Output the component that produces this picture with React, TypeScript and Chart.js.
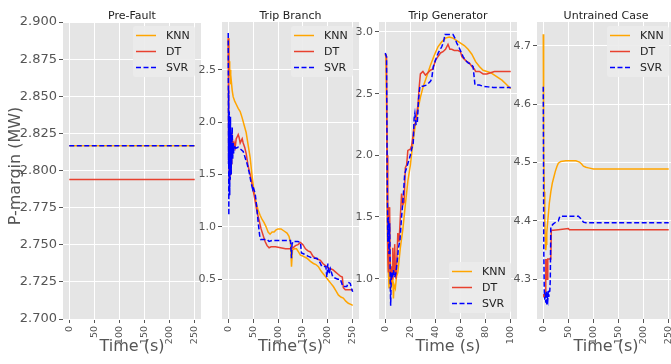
import React, { useEffect, useRef } from "react";
import { Chart, registerables } from "chart.js";
Chart.register(...registerables);

const FONT = "'DejaVu Sans', sans-serif";
const KNN_COLOR = "#FFA500";
const DT_COLOR = "#E8412F";
const SVR_COLOR = "#0000FF";
const SERIES_NAMES = ["KNN", "DT", "SVR"];

// ---------- Pre-Fault ----------
const pfTime = [0, 50, 100, 150, 200, 250];
const pfKnn = [2.8167, 2.8167, 2.8167, 2.8167, 2.8167, 2.8167];
const pfDt = [2.794, 2.794, 2.794, 2.794, 2.794, 2.794];
const pfSvr = [2.8167, 2.8167, 2.8167, 2.8167, 2.8167, 2.8167];

// ---------- Trip Branch ----------
const tbKnnTime = [0, 0.5, 1, 1.5, 2, 3, 4, 5, 6, 8, 10, 13, 16, 20, 24, 28, 32, 36, 40, 44, 48, 52, 56, 60, 64, 68, 72, 76, 80, 84, 88, 92, 96, 100, 106, 112, 118, 122, 125, 127, 129, 133, 137, 141, 145, 150, 158, 165, 171, 176, 181, 186, 191, 196, 201, 206, 211, 216, 221, 226, 231, 236, 241, 246, 250];
const tbKnn = [2.8, 2.7, 2.62, 2.5, 2.58, 2.44, 2.5, 2.36, 2.4, 2.3, 2.24, 2.2, 2.17, 2.13, 2.1, 2.04, 1.97, 1.9, 1.78, 1.66, 1.48, 1.33, 1.23, 1.16, 1.11, 1.07, 1.04, 1.0, 0.95, 0.93, 0.95, 0.95, 0.97, 0.98, 0.98, 0.96, 0.94, 0.91, 0.85, 0.62, 0.78, 0.79, 0.79, 0.76, 0.73, 0.72, 0.7, 0.67, 0.65, 0.64, 0.62, 0.58, 0.55, 0.52, 0.49, 0.46, 0.43, 0.39, 0.35, 0.33, 0.32, 0.29, 0.27, 0.26, 0.25];
const tbDtTime = [0, 0.5, 1, 1.5, 2, 2.5, 3, 3.5, 4, 5, 6, 7, 8, 9, 10, 12, 14, 16, 18, 20, 22, 24, 26, 28, 30, 33, 36, 40, 44, 48, 52, 55, 58, 62, 66, 70, 74, 78, 82, 86, 95, 105, 115, 125, 130, 135, 140, 145, 150, 155, 160, 165, 170, 175, 180, 185, 190, 195, 200, 205, 210, 215, 220, 225, 229, 231, 235, 250];
const tbDt = [2.8, 2.3, 1.6, 2.0, 1.45, 1.85, 1.55, 1.95, 1.5, 1.8, 1.6, 1.9, 1.7, 1.82, 1.72, 1.8, 1.76, 1.84, 1.86, 1.88, 1.85, 1.8, 1.82, 1.84, 1.8, 1.76, 1.7, 1.58, 1.5, 1.4, 1.3, 1.22, 1.14, 1.06, 0.98, 0.92, 0.86, 0.82, 0.8, 0.81, 0.81, 0.8, 0.79, 0.79, 0.8, 0.82, 0.83, 0.85, 0.83, 0.79, 0.77, 0.76, 0.72, 0.7, 0.69, 0.68, 0.65, 0.63, 0.61, 0.6, 0.59, 0.57, 0.55, 0.53, 0.52, 0.42, 0.4, 0.4];
const tbSvrTime = [0, 0.3, 0.6, 0.9, 1.2, 1.5, 1.8, 2.1, 2.4, 2.7, 3, 3.5, 4, 4.5, 5, 5.5, 6, 6.5, 7, 8, 9, 10, 11, 12, 15, 20, 25, 30, 34, 38, 42, 46, 49, 50, 54, 57, 60, 63, 65, 70, 78, 82, 88, 95, 105, 115, 125, 127, 128, 130, 140, 145, 147, 152, 160, 170, 178, 184, 188, 196, 198, 200, 202, 205, 210, 220, 225, 230, 238, 241, 245, 248, 250];
const tbSvr = [2.85, 2.4, 1.6, 2.3, 1.11, 1.9, 1.3, 2.1, 1.4, 1.95, 1.3, 1.85, 1.45, 2.05, 1.55, 1.9, 1.5, 1.8, 1.6, 1.95, 1.65, 1.8, 1.7, 1.78, 1.75, 1.76, 1.74, 1.72, 1.66, 1.6, 1.52, 1.42, 1.36, 1.38, 1.32, 1.2, 1.05, 0.92, 0.88, 0.88, 0.88, 0.86, 0.87, 0.87, 0.87, 0.87, 0.87, 0.7, 0.83, 0.86, 0.86, 0.85, 0.75, 0.74, 0.72, 0.7, 0.7, 0.66, 0.62, 0.62, 0.52, 0.65, 0.55, 0.6, 0.52, 0.5, 0.5, 0.43, 0.43, 0.47, 0.46, 0.4, 0.38];

// ---------- Trip Generator ----------
const tgKnnTime = [0, 0.5, 1, 1.5, 2, 2.5, 3, 4, 5, 6, 6.5, 7, 8, 9, 10, 12, 14, 16, 18, 20, 22, 24, 26, 28, 30, 33, 36, 39, 42, 45, 48, 51, 54, 57, 60, 63, 66, 69, 72, 75, 78, 81, 84, 87, 90, 93, 96, 98, 100];
const tgKnn = [2.82, 2.8, 2.3, 1.6, 1.2, 1.05, 0.92, 1.15, 0.95, 1.0, 0.84, 0.95, 0.92, 1.02, 1.05, 1.25, 1.4, 1.6, 1.79, 1.92, 2.1, 2.25, 2.37, 2.47, 2.55, 2.64, 2.73, 2.81, 2.88, 2.92, 2.95, 2.96, 2.95, 2.93, 2.91, 2.89, 2.86, 2.82, 2.76, 2.72, 2.69, 2.68, 2.67, 2.65, 2.63, 2.61, 2.58, 2.56, 2.54];
const tgDtTime = [0, 1, 1.5, 2, 2.5, 3, 3.5, 4, 4.5, 5, 5.5, 6, 6.5, 7, 7.5, 8, 8.5, 9, 10, 11, 12, 13, 14, 15, 16, 17, 18, 20, 21, 22, 23, 24, 25, 26, 27, 28, 30, 32, 34, 36, 38, 40, 42, 44, 46, 48, 50, 51.5, 53, 55, 58, 60, 61, 63, 65, 67, 69, 71, 72, 75, 78, 81, 84, 87, 90, 95, 100];
const tgDt = [2.82, 2.8, 2.0, 1.2, 1.05, 1.58, 1.55, 1.05, 0.95, 1.1, 1.0, 1.25, 1.15, 1.05, 1.28, 1.1, 1.0, 1.08, 1.37, 1.3, 1.5, 1.69, 1.6, 1.62, 1.9, 1.92, 2.04, 2.05, 2.08, 2.15, 2.25, 2.26, 2.34, 2.4, 2.55, 2.66, 2.68, 2.65, 2.67, 2.69, 2.7, 2.77, 2.8, 2.83, 2.84, 2.86, 2.9, 2.86, 2.86, 2.85, 2.85, 2.84, 2.8, 2.78, 2.76, 2.75, 2.72, 2.7, 2.68, 2.68, 2.66, 2.66, 2.67, 2.68, 2.68, 2.68, 2.68];
const tgSvrTime = [0, 1, 1.5, 2, 2.5, 3, 3.5, 4, 4.3, 4.8, 5.5, 6.5, 7.5, 8.5, 9.6, 10.5, 11.7, 13, 14.3, 15.5, 17, 18.5, 19.7, 21, 22.3, 23, 23.6, 24.5, 25.5, 26.5, 27.6, 30, 33, 36, 37, 38.3, 40, 42.2, 45, 46.5, 47.6, 50, 54, 55.5, 57, 59, 62, 64, 66, 68, 70, 71.5, 75, 78, 82, 86, 100];
const tgSvr = [2.83, 2.8, 1.9, 1.3, 1.5, 1.2, 1.45, 0.95, 0.78, 1.05, 1.0, 1.07, 1.01, 1.05, 1.15, 1.25, 1.31, 1.5, 1.66, 1.85, 1.9, 1.95, 1.99, 2.05, 2.1, 2.3, 2.34, 2.25, 2.26, 2.45, 2.56, 2.56, 2.57, 2.6, 2.62, 2.72, 2.77, 2.83, 2.88, 2.92, 2.98, 2.98, 2.98, 2.95, 2.91, 2.87, 2.8, 2.77, 2.75, 2.74, 2.72, 2.57, 2.57, 2.56, 2.555, 2.55, 2.55];

// ---------- Untrained Case ----------
const ucKnnTime = [0, 0.5, 1, 2, 3, 4, 5, 6, 7, 8, 10, 12, 15, 18, 21, 24, 27, 30, 35, 45, 55, 65, 72, 76, 80, 85, 90, 100, 150, 200, 250];
const ucKnn = [4.72, 4.62, 4.52, 4.45, 4.4, 4.37, 4.35, 4.36, 4.38, 4.39, 4.41, 4.43, 4.45, 4.465, 4.475, 4.485, 4.493, 4.499, 4.502, 4.503, 4.503, 4.503, 4.501, 4.498, 4.494, 4.492, 4.491, 4.489, 4.489, 4.489, 4.489];
const ucDtTime = [0, 1, 2, 3, 4, 5, 6, 7, 8, 9, 13, 15, 16, 20, 30, 50, 52, 250];
const ucDt = [4.27, 4.275, 4.27, 4.28, 4.27, 4.335, 4.3, 4.335, 4.3, 4.335, 4.335, 4.335, 4.384, 4.384, 4.385, 4.387, 4.385, 4.385];
const ucSvrTime = [0, 0.5, 1, 2, 3, 4, 5, 6, 7, 8, 9, 10, 11, 12, 13, 14, 15, 20, 25, 30, 33, 50, 70, 75, 80, 85, 250];
const ucSvr = [4.63, 4.5, 4.35, 4.28, 4.265, 4.275, 4.26, 4.28, 4.255, 4.27, 4.265, 4.28, 4.27, 4.28, 4.28, 4.3, 4.39, 4.395, 4.398, 4.4, 4.408, 4.408, 4.408, 4.404, 4.398, 4.397, 4.397];

// ---------- tick labels ----------
const xTicks250 = [0, 50, 100, 150, 200, 250];
const xTicks100 = [0, 20, 40, 60, 80, 100];
const pfYTicks = [2.7, 2.725, 2.75, 2.775, 2.8, 2.825, 2.85, 2.875, 2.9];
const tbYTicks = [0.5, 1.0, 1.5, 2.0, 2.5];
const tgYTicks = [1.0, 1.5, 2.0, 2.5, 3.0];
const ucYTicks = [4.3, 4.4, 4.5, 4.6, 4.7];

type Series = { t: number[]; v: number[] };
interface PanelSpec {
  title: string;
  plotLeft: number;
  plotWidth: number;
  axisW: number;
  xMin: number;
  xMax: number;
  xTicks: number[];
  yMin: number;
  yMax: number;
  yTicks: number[];
  yDecimals: number;
  yTickFont: number;
  legendAt: "top" | "bottom";
  knn: Series;
  dt: Series;
  svr: Series;
  yLabel?: string;
}

const PANELS: PanelSpec[] = [
  {
    title: "Pre-Fault", plotLeft: 63, plotWidth: 138, axisW: 63,
    xMin: -12.5, xMax: 262.5, xTicks: xTicks250,
    yMin: 2.7, yMax: 2.9, yTicks: pfYTicks, yDecimals: 3, yTickFont: 13,
    legendAt: "top",
    knn: { t: pfTime, v: pfKnn }, dt: { t: pfTime, v: pfDt }, svr: { t: pfTime, v: pfSvr },
    yLabel: "P-margin (MW)",
  },
  {
    title: "Trip Branch", plotLeft: 222, plotWidth: 137, axisW: 24,
    xMin: -12.5, xMax: 262.5, xTicks: xTicks250,
    yMin: 0.12, yMax: 2.955, yTicks: tbYTicks, yDecimals: 1, yTickFont: 11,
    legendAt: "top",
    knn: { t: tbKnnTime, v: tbKnn }, dt: { t: tbDtTime, v: tbDt }, svr: { t: tbSvrTime, v: tbSvr },
  },
  {
    title: "Trip Generator", plotLeft: 379, plotWidth: 138, axisW: 24,
    xMin: -5, xMax: 105, xTicks: xTicks100,
    yMin: 0.673, yMax: 3.081, yTicks: tgYTicks, yDecimals: 1, yTickFont: 11,
    legendAt: "bottom",
    knn: { t: tgKnnTime, v: tgKnn }, dt: { t: tgDtTime, v: tgDt }, svr: { t: tgSvrTime, v: tgSvr },
  },
  {
    title: "Untrained Case", plotLeft: 537, plotWidth: 138, axisW: 24,
    xMin: -12.5, xMax: 262.5, xTicks: xTicks250,
    yMin: 4.232, yMax: 4.741, yTicks: ucYTicks, yDecimals: 1, yTickFont: 11,
    legendAt: "top",
    knn: { t: ucKnnTime, v: ucKnn }, dt: { t: ucDtTime, v: ucDt }, svr: { t: ucSvrTime, v: ucSvr },
  },
];

const RIGHT_PAD = 12;
const CANVAS_H = 364;

function Panel({ spec }: { spec: PanelSpec }) {
  const ref = useRef<HTMLCanvasElement>(null);
  const width = spec.axisW + spec.plotWidth + RIGHT_PAD;

  useEffect(() => {
    const canvas = ref.current;
    if (!canvas) return;
    const toPts = (s: Series) => s.t.map((t, i) => ({ x: t, y: s.v[i] }));

    const deco = {
      id: "deco",
      beforeDraw(chart: any) {
        const { ctx, chartArea: ca } = chart;
        ctx.save();
        ctx.fillStyle = "#E5E5E5";
        ctx.fillRect(ca.left, ca.top, ca.right - ca.left, ca.bottom - ca.top);
        ctx.restore();
      },
      afterDraw(chart: any) {
        const { ctx, chartArea: ca } = chart;
        const xs = chart.scales.x;
        const cx = (ca.left + ca.right) / 2;
        ctx.save();
        // x tick labels rotated 90 degrees (reading bottom-to-top)
        ctx.fillStyle = "#555";
        ctx.font = `9.5px ${FONT}`;
        ctx.textAlign = "right";
        ctx.textBaseline = "middle";
        xs.ticks.forEach((tk: any) => {
          const px = xs.getPixelForValue(tk.value);
          ctx.save();
          ctx.translate(px, ca.bottom + 7);
          ctx.rotate(-Math.PI / 2);
          ctx.fillText(String(tk.value), 0, 0);
          ctx.restore();
        });
        // title
        ctx.fillStyle = "#222";
        ctx.font = `11px ${FONT}`;
        ctx.textAlign = "center";
        ctx.textBaseline = "alphabetic";
        ctx.fillText(spec.title, cx, 18.5);
        // x axis title
        ctx.fillStyle = "#555";
        ctx.font = `16px ${FONT}`;
        ctx.fillText("Time (s)", cx, 351);
        // y label
        if (spec.yLabel) {
          ctx.save();
          ctx.translate(20, 166);
          ctx.rotate(-Math.PI / 2);
          ctx.fillText(spec.yLabel, 0, 0);
          ctx.restore();
        }
        // legend
        const lw = 62;
        const lh = 51;
        const lx = ca.right - 6 - lw;
        const ly = spec.legendAt === "top" ? ca.top + 4 : ca.bottom - 6 - lh;
        ctx.fillStyle = "rgba(236,236,236,0.92)";
        ctx.beginPath();
        const r = 3;
        ctx.moveTo(lx + r, ly);
        ctx.lineTo(lx + lw - r, ly);
        ctx.quadraticCurveTo(lx + lw, ly, lx + lw, ly + r);
        ctx.lineTo(lx + lw, ly + lh - r);
        ctx.quadraticCurveTo(lx + lw, ly + lh, lx + lw - r, ly + lh);
        ctx.lineTo(lx + r, ly + lh);
        ctx.quadraticCurveTo(lx, ly + lh, lx, ly + lh - r);
        ctx.lineTo(lx, ly + r);
        ctx.quadraticCurveTo(lx, ly, lx + r, ly);
        ctx.closePath();
        ctx.fill();
        const colors = [KNN_COLOR, DT_COLOR, SVR_COLOR];
        SERIES_NAMES.forEach((name, i) => {
          const y = ly + 9.5 + i * 16;
          ctx.beginPath();
          ctx.strokeStyle = colors[i];
          ctx.lineWidth = 1.5;
          ctx.setLineDash(i === 2 ? [5, 2.5] : []);
          ctx.moveTo(lx + 3, y);
          ctx.lineTo(lx + 23, y);
          ctx.stroke();
          ctx.setLineDash([]);
          ctx.fillStyle = "#222";
          ctx.font = `11px ${FONT}`;
          ctx.textAlign = "left";
          ctx.textBaseline = "middle";
          ctx.fillText(name, lx + 33, y + 0.5);
        });
        ctx.restore();
      },
    };

    const chart = new Chart(canvas, {
      type: "line",
      data: {
        datasets: [
          { label: "KNN", data: toPts(spec.knn), borderColor: KNN_COLOR, borderWidth: 1.5, pointRadius: 0, order: 3, fill: false },
          { label: "DT", data: toPts(spec.dt), borderColor: DT_COLOR, borderWidth: 1.5, pointRadius: 0, order: 2, fill: false },
          { label: "SVR", data: toPts(spec.svr), borderColor: SVR_COLOR, borderWidth: 1.5, borderDash: [5, 2.5], pointRadius: 0, order: 1, fill: false },
        ],
      },
      options: {
        animation: false,
        responsive: false,
        devicePixelRatio: 1,
        events: [],
        layout: { padding: { top: 22, bottom: 0, left: 0, right: RIGHT_PAD } },
        plugins: { legend: { display: false }, tooltip: { enabled: false }, title: { display: false } },
        scales: {
          x: {
            type: "linear",
            min: spec.xMin,
            max: spec.xMax,
            afterBuildTicks: (s: any) => {
              s.ticks = spec.xTicks.map((v) => ({ value: v }));
            },
            afterFit: (s: any) => {
              s.height = 45;
            },
            ticks: { display: false },
            grid: { color: "#FFFFFF", lineWidth: 1, tickColor: "#555", tickLength: 4 },
            border: { display: false },
          },
          y: {
            type: "linear",
            min: spec.yMin,
            max: spec.yMax,
            afterBuildTicks: (s: any) => {
              s.ticks = spec.yTicks.map((v) => ({ value: v }));
            },
            afterFit: (s: any) => {
              s.width = spec.axisW;
            },
            ticks: {
              padding: 2,
              color: "#555",
              font: { family: FONT, size: spec.yTickFont },
              callback: (v: any) => Number(v).toFixed(spec.yDecimals),
            },
            grid: { color: "#FFFFFF", lineWidth: 1, tickColor: "#555", tickLength: 4 },
            border: { display: false },
          },
        },
      },
      plugins: [deco],
    } as any);
    return () => chart.destroy();
  }, [spec]);

  return (
    <canvas
      ref={ref}
      width={width}
      height={CANVAS_H}
      style={{ position: "absolute", left: spec.plotLeft - spec.axisW, top: 0, width, height: CANVAS_H }}
    />
  );
}

export default function App() {
  return (
    <div
      style={{
        position: "fixed",
        left: 0,
        top: 0,
        width: 671,
        height: 364,
        overflow: "hidden",
        background: "#FFFFFF",
      }}
    >
      {PANELS.map((p) => (
        <Panel key={p.title} spec={p} />
      ))}
    </div>
  );
}
